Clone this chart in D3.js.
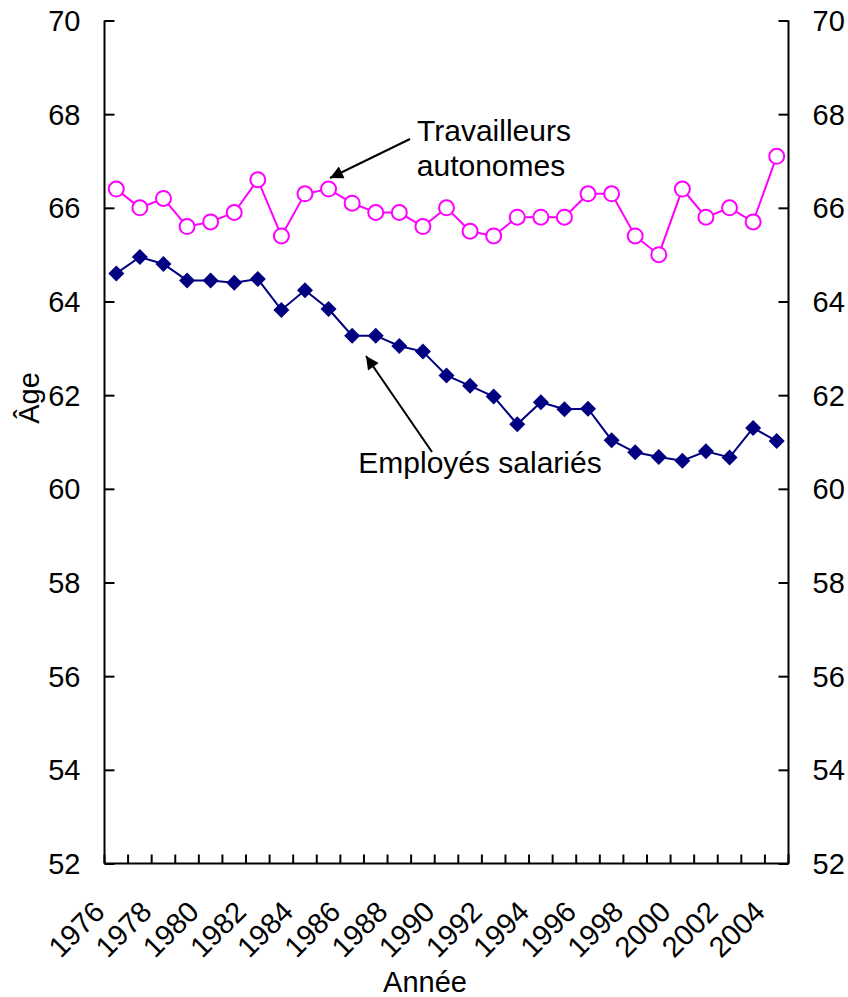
<!DOCTYPE html>
<html><head><meta charset="utf-8">
<script src="https://cdn.jsdelivr.net/npm/d3@7"></script>
<style>body{margin:0;background:#fff}svg text{font-family:"Liberation Sans",Arial,sans-serif;fill:#000}</style>
</head><body><svg id="c" width="848" height="997"></svg>
<script>
const years = d3.range(1976, 2005);
const autonomes = [66.4,66.0,66.2,65.6,65.7,65.9,66.6,65.4,66.3,66.4,66.1,65.9,65.9,65.6,66.0,65.5,65.4,65.8,65.8,65.8,66.3,66.3,65.4,65.0,66.4,65.8,66.0,65.7,67.1];
const salaries = [64.6,64.95,64.8,64.45,64.45,64.4,64.48,63.82,64.24,63.84,63.27,63.27,63.05,62.93,62.42,62.2,61.97,61.38,61.85,61.7,61.71,61.04,60.78,60.68,60.6,60.8,60.67,61.3,61.02];
const yTicks = [52,54,56,58,60,62,64,66,68,70];
const xLabels = years.filter(y => (y - 1976) % 2 === 0);

const svg = d3.select("#c");
const L = 104.5, R = 788.5, T = 20.5, B = 863.5;
const x = d3.scaleBand().domain(years).range([L, R]);
const y = d3.scaleLinear().domain([52, 70]).range([B, T]);
const FS = 29;
const FA = 30;

svg.append("defs").append("marker").attr("id","ah").attr("viewBox","0 0 10 10")
  .attr("refX",10).attr("refY",5).attr("markerWidth",18).attr("markerHeight",13)
  .attr("markerUnits","userSpaceOnUse").attr("orient","auto")
  .append("path").attr("d","M0,0L10,5L0,10Z").attr("fill","#000");

// left axis
const gl = svg.append("g").attr("transform",`translate(${L},0)`)
  .call(d3.axisRight(y).tickValues(yTicks).tickSize(10).tickFormat(""));
gl.selectAll("path,line").attr("stroke","#000").attr("stroke-width",2);
gl.select(".domain").attr("d",`M0,${T}V${B}`);
svg.append("g").selectAll("text").data(yTicks).join("text")
  .attr("x", L - 24).attr("y", d => y(d)).attr("dy","0.36em")
  .attr("text-anchor","end").attr("font-size",FS).text(d => d);

// right axis
const gr = svg.append("g").attr("transform",`translate(${R},0)`)
  .call(d3.axisLeft(y).tickValues(yTicks).tickSize(10).tickFormat(""));
gr.selectAll("path,line").attr("stroke","#000").attr("stroke-width",2);
gr.select(".domain").attr("d",`M0,${T}V${B}`);
svg.append("g").selectAll("text").data(yTicks).join("text")
  .attr("x", R + 24).attr("y", d => y(d)).attr("dy","0.36em")
  .attr("text-anchor","start").attr("font-size",FS).text(d => d);

// bottom axis
const boundaries = years.map(d => x(d)).concat([R]);
const gb = svg.append("g");
gb.append("line").attr("x1",L).attr("x2",R).attr("y1",B).attr("y2",B).attr("stroke","#000").attr("stroke-width",2);
gb.selectAll("line.t").data(boundaries).join("line").attr("class","t")
  .attr("x1",d=>d).attr("x2",d=>d).attr("y1",B).attr("y2",B-9).attr("stroke","#000").attr("stroke-width",2);
svg.append("g").selectAll("text").data(xLabels).join("text")
  .attr("font-size",FS).attr("text-anchor","end")
  .attr("transform", d => `translate(${x(d) + x.bandwidth()/2 - 10},${B + 50}) rotate(-45)`)
  .text(d => d);

// lines
const cx = d => x(d) + x.bandwidth()/2;
const line = d3.line().x((d,i) => cx(years[i])).y(d => y(d));
svg.append("path").attr("d", line(salaries)).attr("fill","none").attr("stroke","#000080").attr("stroke-width",2);
svg.append("path").attr("d", line(autonomes)).attr("fill","none").attr("stroke","#FF00FF").attr("stroke-width",2);
svg.append("g").selectAll("path").data(salaries).join("path")
  .attr("transform",(d,i)=>`translate(${cx(years[i])},${y(d)})`)
  .attr("d","M0,-8L8,0L0,8L-8,0Z").attr("fill","#000080");
svg.append("g").selectAll("circle").data(autonomes).join("circle")
  .attr("cx",(d,i)=>cx(years[i])).attr("cy",d=>y(d)).attr("r",7.5)
  .attr("fill","#fff").attr("stroke","#FF00FF").attr("stroke-width",2);

// annotations
svg.append("text").attr("x",494).attr("y",141).attr("text-anchor","middle").attr("font-size",FA).text("Travailleurs");
svg.append("text").attr("x",491).attr("y",176).attr("text-anchor","middle").attr("font-size",FA).text("autonomes");
svg.append("line").attr("x1",410).attr("y1",139).attr("x2",330).attr("y2",178)
  .attr("stroke","#000").attr("stroke-width",2).attr("marker-end","url(#ah)");
svg.append("text").attr("x",480).attr("y",473).attr("text-anchor","middle").attr("font-size",FA).text("Employés salariés");
svg.append("line").attr("x1",432).attr("y1",452).attr("x2",366).attr("y2",356)
  .attr("stroke","#000").attr("stroke-width",2).attr("marker-end","url(#ah)");

// axis titles
svg.append("text").attr("transform","translate(39,398) rotate(-90)").attr("text-anchor","middle").attr("font-size",FS).text("Âge");
svg.append("text").attr("x",425).attr("y",992).attr("text-anchor","middle").attr("font-size",FS).text("Année");
</script></body></html>
